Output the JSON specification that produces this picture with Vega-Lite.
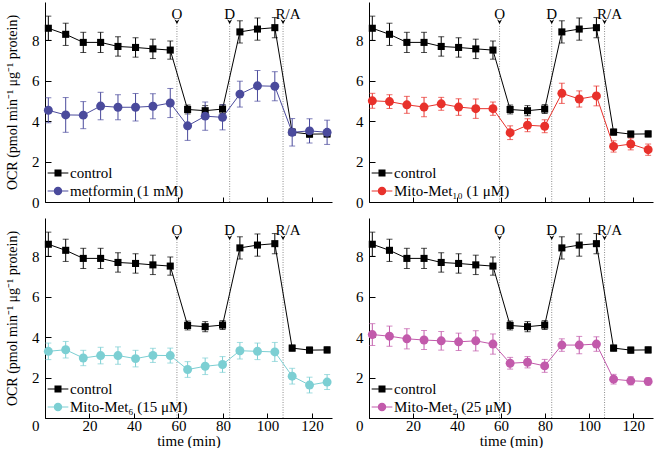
{
  "$schema": "https://vega.github.io/schema/vega-lite/v6.json",
  "padding": {"left": 5, "top": 2, "right": 2, "bottom": 0},
  "datasets": {
    "events": [
      {"label": "O", "time": 59.3},
      {"label": "D", "time": 83.0},
      {"label": "R/A", "time": 107.0}
    ],
    "ocr": [
      {"panel": "all", "series": "control", "time": 1.5, "ocr": 8.6, "sem": 0.6},
      {"panel": "all", "series": "control", "time": 9.3, "ocr": 8.3, "sem": 0.55},
      {"panel": "all", "series": "control", "time": 17.2, "ocr": 7.9, "sem": 0.5},
      {"panel": "all", "series": "control", "time": 25.0, "ocr": 7.9, "sem": 0.5},
      {"panel": "all", "series": "control", "time": 32.8, "ocr": 7.7, "sem": 0.48},
      {"panel": "all", "series": "control", "time": 40.7, "ocr": 7.65, "sem": 0.48},
      {"panel": "all", "series": "control", "time": 48.5, "ocr": 7.58, "sem": 0.48},
      {"panel": "all", "series": "control", "time": 56.3, "ocr": 7.52, "sem": 0.45},
      {"panel": "all", "series": "control", "time": 64.1, "ocr": 4.58, "sem": 0.22},
      {"panel": "all", "series": "control", "time": 72.0, "ocr": 4.52, "sem": 0.25},
      {"panel": "all", "series": "control", "time": 79.8, "ocr": 4.6, "sem": 0.22},
      {"panel": "all", "series": "control", "time": 87.6, "ocr": 8.42, "sem": 0.55},
      {"panel": "all", "series": "control", "time": 95.5, "ocr": 8.56, "sem": 0.55},
      {"panel": "all", "series": "control", "time": 103.3, "ocr": 8.63, "sem": 0.5},
      {"panel": "all", "series": "control", "time": 111.1, "ocr": 3.46, "sem": 0.15},
      {"panel": "all", "series": "control", "time": 118.9, "ocr": 3.36, "sem": 0.15},
      {"panel": "all", "series": "control", "time": 126.8, "ocr": 3.37, "sem": 0.15},

      {"panel": "A", "series": "metformin (1 mM)", "time": 1.5, "ocr": 4.54, "sem": 0.62},
      {"panel": "A", "series": "metformin (1 mM)", "time": 9.3, "ocr": 4.31, "sem": 0.86},
      {"panel": "A", "series": "metformin (1 mM)", "time": 17.2, "ocr": 4.3, "sem": 0.67},
      {"panel": "A", "series": "metformin (1 mM)", "time": 25.0, "ocr": 4.75, "sem": 0.68},
      {"panel": "A", "series": "metformin (1 mM)", "time": 32.8, "ocr": 4.69, "sem": 0.62},
      {"panel": "A", "series": "metformin (1 mM)", "time": 40.7, "ocr": 4.69, "sem": 0.68},
      {"panel": "A", "series": "metformin (1 mM)", "time": 48.5, "ocr": 4.74, "sem": 0.62},
      {"panel": "A", "series": "metformin (1 mM)", "time": 56.3, "ocr": 4.9, "sem": 0.72},
      {"panel": "A", "series": "metformin (1 mM)", "time": 64.1, "ocr": 3.77, "sem": 0.72},
      {"panel": "A", "series": "metformin (1 mM)", "time": 72.0, "ocr": 4.25, "sem": 0.7},
      {"panel": "A", "series": "metformin (1 mM)", "time": 79.8, "ocr": 4.19, "sem": 0.62},
      {"panel": "A", "series": "metformin (1 mM)", "time": 87.6, "ocr": 5.34, "sem": 0.64},
      {"panel": "A", "series": "metformin (1 mM)", "time": 95.5, "ocr": 5.75, "sem": 0.76},
      {"panel": "A", "series": "metformin (1 mM)", "time": 103.3, "ocr": 5.73, "sem": 0.72},
      {"panel": "A", "series": "metformin (1 mM)", "time": 111.1, "ocr": 3.45, "sem": 0.68},
      {"panel": "A", "series": "metformin (1 mM)", "time": 118.9, "ocr": 3.52, "sem": 0.6},
      {"panel": "A", "series": "metformin (1 mM)", "time": 126.8, "ocr": 3.45, "sem": 0.6},

      {"panel": "B", "series": "Mito-Met₁₀ (1 μM)", "time": 1.5, "ocr": 5.01, "sem": 0.37},
      {"panel": "B", "series": "Mito-Met₁₀ (1 μM)", "time": 9.3, "ocr": 4.97, "sem": 0.34},
      {"panel": "B", "series": "Mito-Met₁₀ (1 μM)", "time": 17.2, "ocr": 4.81, "sem": 0.42},
      {"panel": "B", "series": "Mito-Met₁₀ (1 μM)", "time": 25.0, "ocr": 4.7, "sem": 0.48},
      {"panel": "B", "series": "Mito-Met₁₀ (1 μM)", "time": 32.8, "ocr": 4.86, "sem": 0.32},
      {"panel": "B", "series": "Mito-Met₁₀ (1 μM)", "time": 40.7, "ocr": 4.7, "sem": 0.41},
      {"panel": "B", "series": "Mito-Met₁₀ (1 μM)", "time": 48.5, "ocr": 4.62, "sem": 0.48},
      {"panel": "B", "series": "Mito-Met₁₀ (1 μM)", "time": 56.3, "ocr": 4.62, "sem": 0.33},
      {"panel": "B", "series": "Mito-Met₁₀ (1 μM)", "time": 64.1, "ocr": 3.43, "sem": 0.34},
      {"panel": "B", "series": "Mito-Met₁₀ (1 μM)", "time": 72.0, "ocr": 3.8, "sem": 0.32},
      {"panel": "B", "series": "Mito-Met₁₀ (1 μM)", "time": 79.8, "ocr": 3.75, "sem": 0.32},
      {"panel": "B", "series": "Mito-Met₁₀ (1 μM)", "time": 87.6, "ocr": 5.38, "sem": 0.5},
      {"panel": "B", "series": "Mito-Met₁₀ (1 μM)", "time": 95.5, "ocr": 5.1, "sem": 0.4},
      {"panel": "B", "series": "Mito-Met₁₀ (1 μM)", "time": 103.3, "ocr": 5.25, "sem": 0.49},
      {"panel": "B", "series": "Mito-Met₁₀ (1 μM)", "time": 111.1, "ocr": 2.75, "sem": 0.28},
      {"panel": "B", "series": "Mito-Met₁₀ (1 μM)", "time": 118.9, "ocr": 2.87, "sem": 0.29},
      {"panel": "B", "series": "Mito-Met₁₀ (1 μM)", "time": 126.8, "ocr": 2.59, "sem": 0.28},

      {"panel": "C", "series": "Mito-Met₆ (15 μM)", "time": 1.5, "ocr": 3.3, "sem": 0.41},
      {"panel": "C", "series": "Mito-Met₆ (15 μM)", "time": 9.3, "ocr": 3.38, "sem": 0.41},
      {"panel": "C", "series": "Mito-Met₆ (15 μM)", "time": 17.2, "ocr": 2.97, "sem": 0.38},
      {"panel": "C", "series": "Mito-Met₆ (15 μM)", "time": 25.0, "ocr": 3.09, "sem": 0.41},
      {"panel": "C", "series": "Mito-Met₆ (15 μM)", "time": 32.8, "ocr": 3.09, "sem": 0.43},
      {"panel": "C", "series": "Mito-Met₆ (15 μM)", "time": 40.7, "ocr": 2.94, "sem": 0.41},
      {"panel": "C", "series": "Mito-Met₆ (15 μM)", "time": 48.5, "ocr": 3.1, "sem": 0.35},
      {"panel": "C", "series": "Mito-Met₆ (15 μM)", "time": 56.3, "ocr": 3.09, "sem": 0.37},
      {"panel": "C", "series": "Mito-Met₆ (15 μM)", "time": 64.1, "ocr": 2.4, "sem": 0.39},
      {"panel": "C", "series": "Mito-Met₆ (15 μM)", "time": 72.0, "ocr": 2.56, "sem": 0.41},
      {"panel": "C", "series": "Mito-Met₆ (15 μM)", "time": 79.8, "ocr": 2.65, "sem": 0.39},
      {"panel": "C", "series": "Mito-Met₆ (15 μM)", "time": 87.6, "ocr": 3.33, "sem": 0.41},
      {"panel": "C", "series": "Mito-Met₆ (15 μM)", "time": 95.5, "ocr": 3.3, "sem": 0.41},
      {"panel": "C", "series": "Mito-Met₆ (15 μM)", "time": 103.3, "ocr": 3.27, "sem": 0.47},
      {"panel": "C", "series": "Mito-Met₆ (15 μM)", "time": 111.1, "ocr": 2.07, "sem": 0.39},
      {"panel": "C", "series": "Mito-Met₆ (15 μM)", "time": 118.9, "ocr": 1.63, "sem": 0.39},
      {"panel": "C", "series": "Mito-Met₆ (15 μM)", "time": 126.8, "ocr": 1.78, "sem": 0.37},

      {"panel": "D", "series": "Mito-Met₂ (25 μM)", "time": 1.5, "ocr": 4.13, "sem": 0.54},
      {"panel": "D", "series": "Mito-Met₂ (25 μM)", "time": 9.3, "ocr": 4.05, "sem": 0.5},
      {"panel": "D", "series": "Mito-Met₂ (25 μM)", "time": 17.2, "ocr": 3.92, "sem": 0.5},
      {"panel": "D", "series": "Mito-Met₂ (25 μM)", "time": 25.0, "ocr": 3.86, "sem": 0.47},
      {"panel": "D", "series": "Mito-Met₂ (25 μM)", "time": 32.8, "ocr": 3.82, "sem": 0.46},
      {"panel": "D", "series": "Mito-Met₂ (25 μM)", "time": 40.7, "ocr": 3.77, "sem": 0.43},
      {"panel": "D", "series": "Mito-Met₂ (25 μM)", "time": 48.5, "ocr": 3.82, "sem": 0.5},
      {"panel": "D", "series": "Mito-Met₂ (25 μM)", "time": 56.3, "ocr": 3.66, "sem": 0.5},
      {"panel": "D", "series": "Mito-Met₂ (25 μM)", "time": 64.1, "ocr": 2.71, "sem": 0.29},
      {"panel": "D", "series": "Mito-Met₂ (25 μM)", "time": 72.0, "ocr": 2.76, "sem": 0.28},
      {"panel": "D", "series": "Mito-Met₂ (25 μM)", "time": 79.8, "ocr": 2.58, "sem": 0.32},
      {"panel": "D", "series": "Mito-Met₂ (25 μM)", "time": 87.6, "ocr": 3.61, "sem": 0.31},
      {"panel": "D", "series": "Mito-Met₂ (25 μM)", "time": 95.5, "ocr": 3.61, "sem": 0.43},
      {"panel": "D", "series": "Mito-Met₂ (25 μM)", "time": 103.3, "ocr": 3.66, "sem": 0.36},
      {"panel": "D", "series": "Mito-Met₂ (25 μM)", "time": 111.1, "ocr": 1.92, "sem": 0.24},
      {"panel": "D", "series": "Mito-Met₂ (25 μM)", "time": 118.9, "ocr": 1.84, "sem": 0.2},
      {"panel": "D", "series": "Mito-Met₂ (25 μM)", "time": 126.8, "ocr": 1.81, "sem": 0.18}
    ]
  },
  "columns": 2,
  "spacing": {"row": 8, "column": 23},
  "resolve": {
    "scale": {"x": "independent", "y": "independent", "color": "independent", "shape": "independent"},
    "legend": {"color": "independent", "shape": "independent"}
  },
  "concat": [
    {
      "width": 287, "height": 200,
      "layer": [
        {"data": {"name": "events"}, "mark": {"type": "rule", "color": "#8c8c8c", "strokeDash": [1, 1.5], "strokeWidth": 1},
         "encoding": {"x": {"field": "time", "type": "quantitative", "title": null}, "y": {"datum": 0, "title": "OCR (pmol min⁻¹ μg⁻¹ protein)"}, "y2": {"datum": 8.8}}},
        {"data": {"name": "events"}, "mark": {"type": "point", "shape": "M-1,-1L0,1L1,-1L0,-0.3Z", "filled": true, "color": "black", "opacity": 1, "size": 25},
         "encoding": {"x": {"field": "time", "type": "quantitative", "title": null}, "y": {"datum": 8.92, "title": "OCR (pmol min⁻¹ μg⁻¹ protein)"}}},
        {"data": {"name": "events"}, "transform": [{"filter": "datum.label !== 'R/A'"}], "mark": {"type": "text", "fontSize": 15, "color": "black", "font": "Liberation Serif"},
         "encoding": {"x": {"field": "time", "type": "quantitative", "title": null}, "y": {"datum": 9.33, "title": "OCR (pmol min⁻¹ μg⁻¹ protein)"}, "text": {"field": "label"}}},
        {"data": {"name": "events"}, "transform": [{"filter": "datum.label === 'R/A'"}], "mark": {"type": "text", "fontSize": 15, "color": "black", "font": "Liberation Serif", "dx": 5},
         "encoding": {"x": {"field": "time", "type": "quantitative", "title": null}, "y": {"datum": 9.33, "title": "OCR (pmol min⁻¹ μg⁻¹ protein)"}, "text": {"field": "label"}}},
        {"data": {"name": "ocr"}, "transform": [{"filter": "datum.series === 'control'"}],
         "mark": {"type": "errorbar", "ticks": true, "size": 6, "thickness": 1, "color": "black"},
         "encoding": {"x": {"field": "time", "type": "quantitative", "title": null}, "y": {"field": "ocr", "type": "quantitative", "title": "OCR (pmol min⁻¹ μg⁻¹ protein)"}, "yError": {"field": "sem"}}},
        {"data": {"name": "ocr"}, "transform": [{"filter": "datum.series === 'control'"}],
         "mark": {"type": "line", "strokeWidth": 1, "color": "black"},
         "encoding": {"x": {"field": "time", "type": "quantitative", "title": null}, "y": {"field": "ocr", "type": "quantitative", "title": "OCR (pmol min⁻¹ μg⁻¹ protein)"}}},
        {"data": {"name": "ocr"}, "transform": [{"filter": "datum.panel === 'A'"}],
         "mark": {"type": "errorbar", "ticks": true, "size": 6, "thickness": 1, "color": "#4a4a9c"},
         "encoding": {"x": {"field": "time", "type": "quantitative", "title": null}, "y": {"field": "ocr", "type": "quantitative", "title": "OCR (pmol min⁻¹ μg⁻¹ protein)"}, "yError": {"field": "sem"}}},
        {"data": {"name": "ocr"}, "transform": [{"filter": "datum.panel === 'A'"}],
         "mark": {"type": "line", "strokeWidth": 1, "color": "#4a4a9c"},
         "encoding": {"x": {"field": "time", "type": "quantitative", "title": null}, "y": {"field": "ocr", "type": "quantitative", "title": "OCR (pmol min⁻¹ μg⁻¹ protein)"}}},
        {"data": {"name": "ocr"}, "transform": [{"filter": "datum.panel === 'all' || datum.panel === 'A'"}],
         "mark": {"type": "point", "filled": true, "opacity": 1},
         "encoding": {
           "x": {"field": "time", "type": "quantitative", "title": null, "scale": {"domain": [0, 129], "nice": false, "zero": false},
             "axis": {"title": null, "labels": false, "values": [0, 10, 20, 30, 40, 50, 60, 70, 80, 90, 100, 110, 120], "tickSize": {"condition": {"test": "datum.value % 20 === 0", "value": -5}, "value": -3}}},
           "y": {"field": "ocr", "type": "quantitative", "title": "OCR (pmol min⁻¹ μg⁻¹ protein)", "scale": {"domain": [0, 9.9], "nice": false},
             "axis": {"title": "OCR (pmol min⁻¹ μg⁻¹ protein)", "titleFontSize": 14, "values": [0, 1, 2, 3, 4, 5, 6, 7, 8, 9], "labelExpr": "datum.value % 2 === 0 ? datum.label : ''", "tickSize": {"condition": {"test": "datum.value % 2 === 0", "value": -6}, "value": -3}, "labelPadding": 12, "titlePadding": 12}},
           "color": {"condition": {"test": "datum.series === 'control'", "value": "black"}, "value": "#4a4a9c"},
           "shape": {"condition": {"test": "datum.series === 'control'", "value": "square"}, "value": "circle"},
           "size": {"condition": {"test": "datum.series === 'control'", "value": 50}, "value": 80}
         }},
        {"data": {"name": "ocr"}, "transform": [{"filter": "datum.time < 0"}],
         "mark": {"type": "point", "filled": true, "opacity": 1, "size": 324},
         "encoding": {
           "x": {"field": "time", "type": "quantitative", "title": null},
           "y": {"field": "ocr", "type": "quantitative", "title": "OCR (pmol min⁻¹ μg⁻¹ protein)"},
           "color": {"field": "series", "type": "nominal", "scale": {"domain": ["control", "metformin (1 mM)"], "range": ["black", "#4a4a9c"]},
             "legend": {"orient": "bottom-left", "offset": 3, "title": null, "padding": 0, "symbolSize": 324, "labelOffset": 2, "rowPadding": 0, "labelLimit": 0}},
           "shape": {"field": "series", "type": "nominal", "scale": {"domain": ["control", "metformin (1 mM)"], "range": ["M-1.15,-0.055H1.15V0.055H-1.15Z M-0.39,-0.39H0.39V0.39H-0.39Z", "M-1.15,-0.055H1.15V0.055H-1.15Z M-0.47,0A0.47,0.47 0 1,1 0.47,0A0.47,0.47 0 1,1 -0.47,0Z"]},
             "legend": {"orient": "bottom-left", "offset": 3, "title": null, "padding": 0, "symbolSize": 324, "labelOffset": 2, "rowPadding": 0, "labelLimit": 0}}
         }}
      ]
    },
    {
      "width": 284, "height": 200,
      "layer": [
        {"data": {"name": "events"}, "mark": {"type": "rule", "color": "#8c8c8c", "strokeDash": [1, 1.5], "strokeWidth": 1},
         "encoding": {"x": {"field": "time", "type": "quantitative", "title": null}, "y": {"datum": 0, "title": null}, "y2": {"datum": 8.8}}},
        {"data": {"name": "events"}, "mark": {"type": "point", "shape": "M-1,-1L0,1L1,-1L0,-0.3Z", "filled": true, "color": "black", "opacity": 1, "size": 25},
         "encoding": {"x": {"field": "time", "type": "quantitative", "title": null}, "y": {"datum": 8.92, "title": null}}},
        {"data": {"name": "events"}, "transform": [{"filter": "datum.label !== 'R/A'"}], "mark": {"type": "text", "fontSize": 15, "color": "black", "font": "Liberation Serif"},
         "encoding": {"x": {"field": "time", "type": "quantitative", "title": null}, "y": {"datum": 9.33, "title": null}, "text": {"field": "label"}}},
        {"data": {"name": "events"}, "transform": [{"filter": "datum.label === 'R/A'"}], "mark": {"type": "text", "fontSize": 15, "color": "black", "font": "Liberation Serif", "dx": 5},
         "encoding": {"x": {"field": "time", "type": "quantitative", "title": null}, "y": {"datum": 9.33, "title": null}, "text": {"field": "label"}}},
        {"data": {"name": "ocr"}, "transform": [{"filter": "datum.series === 'control'"}],
         "mark": {"type": "errorbar", "ticks": true, "size": 6, "thickness": 1, "color": "black"},
         "encoding": {"x": {"field": "time", "type": "quantitative", "title": null}, "y": {"field": "ocr", "type": "quantitative", "title": null}, "yError": {"field": "sem"}}},
        {"data": {"name": "ocr"}, "transform": [{"filter": "datum.series === 'control'"}],
         "mark": {"type": "line", "strokeWidth": 1, "color": "black"},
         "encoding": {"x": {"field": "time", "type": "quantitative", "title": null}, "y": {"field": "ocr", "type": "quantitative", "title": null}}},
        {"data": {"name": "ocr"}, "transform": [{"filter": "datum.panel === 'B'"}],
         "mark": {"type": "errorbar", "ticks": true, "size": 6, "thickness": 1, "color": "#e8312b"},
         "encoding": {"x": {"field": "time", "type": "quantitative", "title": null}, "y": {"field": "ocr", "type": "quantitative", "title": null}, "yError": {"field": "sem"}}},
        {"data": {"name": "ocr"}, "transform": [{"filter": "datum.panel === 'B'"}],
         "mark": {"type": "line", "strokeWidth": 1, "color": "#e8312b"},
         "encoding": {"x": {"field": "time", "type": "quantitative", "title": null}, "y": {"field": "ocr", "type": "quantitative", "title": null}}},
        {"data": {"name": "ocr"}, "transform": [{"filter": "datum.panel === 'all' || datum.panel === 'B'"}],
         "mark": {"type": "point", "filled": true, "opacity": 1},
         "encoding": {
           "x": {"field": "time", "type": "quantitative", "title": null, "scale": {"domain": [0, 129], "nice": false, "zero": false},
             "axis": {"title": null, "labels": false, "values": [0, 10, 20, 30, 40, 50, 60, 70, 80, 90, 100, 110, 120], "tickSize": {"condition": {"test": "datum.value % 20 === 0", "value": -5}, "value": -3}}},
           "y": {"field": "ocr", "type": "quantitative", "title": null, "scale": {"domain": [0, 9.9], "nice": false},
             "axis": {"title": null, "values": [0, 1, 2, 3, 4, 5, 6, 7, 8, 9], "labelExpr": "datum.value % 2 === 0 ? datum.label : ''", "tickSize": {"condition": {"test": "datum.value % 2 === 0", "value": -6}, "value": -3}, "labelPadding": 12}},
           "color": {"condition": {"test": "datum.series === 'control'", "value": "black"}, "value": "#e8312b"},
           "shape": {"condition": {"test": "datum.series === 'control'", "value": "square"}, "value": "circle"},
           "size": {"condition": {"test": "datum.series === 'control'", "value": 50}, "value": 80}
         }},
        {"data": {"name": "ocr"}, "transform": [{"filter": "datum.time < 0"}],
         "mark": {"type": "point", "filled": true, "opacity": 1, "size": 324},
         "encoding": {
           "x": {"field": "time", "type": "quantitative", "title": null},
           "y": {"field": "ocr", "type": "quantitative", "title": null},
           "color": {"field": "series", "type": "nominal", "scale": {"domain": ["control", "Mito-Met₁₀ (1 μM)"], "range": ["black", "#e8312b"]},
             "legend": {"orient": "bottom-left", "offset": 3, "title": null, "padding": 0, "symbolSize": 324, "labelOffset": 2, "rowPadding": 0, "labelLimit": 0}},
           "shape": {"field": "series", "type": "nominal", "scale": {"domain": ["control", "Mito-Met₁₀ (1 μM)"], "range": ["M-1.15,-0.055H1.15V0.055H-1.15Z M-0.39,-0.39H0.39V0.39H-0.39Z", "M-1.15,-0.055H1.15V0.055H-1.15Z M-0.47,0A0.47,0.47 0 1,1 0.47,0A0.47,0.47 0 1,1 -0.47,0Z"]},
             "legend": {"orient": "bottom-left", "offset": 3, "title": null, "padding": 0, "symbolSize": 324, "labelOffset": 2, "rowPadding": 0, "labelLimit": 0}}
         }}
      ]
    },
    {
      "width": 287, "height": 200,
      "layer": [
        {"data": {"name": "events"}, "mark": {"type": "rule", "color": "#8c8c8c", "strokeDash": [1, 1.5], "strokeWidth": 1},
         "encoding": {"x": {"field": "time", "type": "quantitative", "title": "time (min)"}, "y": {"datum": 0, "title": "OCR (pmol min⁻¹ μg⁻¹ protein)"}, "y2": {"datum": 8.8}}},
        {"data": {"name": "events"}, "mark": {"type": "point", "shape": "M-1,-1L0,1L1,-1L0,-0.3Z", "filled": true, "color": "black", "opacity": 1, "size": 25},
         "encoding": {"x": {"field": "time", "type": "quantitative", "title": "time (min)"}, "y": {"datum": 8.92, "title": "OCR (pmol min⁻¹ μg⁻¹ protein)"}}},
        {"data": {"name": "events"}, "transform": [{"filter": "datum.label !== 'R/A'"}], "mark": {"type": "text", "fontSize": 15, "color": "black", "font": "Liberation Serif"},
         "encoding": {"x": {"field": "time", "type": "quantitative", "title": "time (min)"}, "y": {"datum": 9.33, "title": "OCR (pmol min⁻¹ μg⁻¹ protein)"}, "text": {"field": "label"}}},
        {"data": {"name": "events"}, "transform": [{"filter": "datum.label === 'R/A'"}], "mark": {"type": "text", "fontSize": 15, "color": "black", "font": "Liberation Serif", "dx": 5},
         "encoding": {"x": {"field": "time", "type": "quantitative", "title": "time (min)"}, "y": {"datum": 9.33, "title": "OCR (pmol min⁻¹ μg⁻¹ protein)"}, "text": {"field": "label"}}},
        {"data": {"name": "ocr"}, "transform": [{"filter": "datum.series === 'control'"}],
         "mark": {"type": "errorbar", "ticks": true, "size": 6, "thickness": 1, "color": "black"},
         "encoding": {"x": {"field": "time", "type": "quantitative", "title": "time (min)"}, "y": {"field": "ocr", "type": "quantitative", "title": "OCR (pmol min⁻¹ μg⁻¹ protein)"}, "yError": {"field": "sem"}}},
        {"data": {"name": "ocr"}, "transform": [{"filter": "datum.series === 'control'"}],
         "mark": {"type": "line", "strokeWidth": 1, "color": "black"},
         "encoding": {"x": {"field": "time", "type": "quantitative", "title": "time (min)"}, "y": {"field": "ocr", "type": "quantitative", "title": "OCR (pmol min⁻¹ μg⁻¹ protein)"}}},
        {"data": {"name": "ocr"}, "transform": [{"filter": "datum.panel === 'C'"}],
         "mark": {"type": "errorbar", "ticks": true, "size": 6, "thickness": 1, "color": "#7ccfd3"},
         "encoding": {"x": {"field": "time", "type": "quantitative", "title": "time (min)"}, "y": {"field": "ocr", "type": "quantitative", "title": "OCR (pmol min⁻¹ μg⁻¹ protein)"}, "yError": {"field": "sem"}}},
        {"data": {"name": "ocr"}, "transform": [{"filter": "datum.panel === 'C'"}],
         "mark": {"type": "line", "strokeWidth": 1, "color": "#7ccfd3"},
         "encoding": {"x": {"field": "time", "type": "quantitative", "title": "time (min)"}, "y": {"field": "ocr", "type": "quantitative", "title": "OCR (pmol min⁻¹ μg⁻¹ protein)"}}},
        {"data": {"name": "ocr"}, "transform": [{"filter": "datum.panel === 'all' || datum.panel === 'C'"}],
         "mark": {"type": "point", "filled": true, "opacity": 1},
         "encoding": {
           "x": {"field": "time", "type": "quantitative", "title": "time (min)", "scale": {"domain": [0, 129], "nice": false, "zero": false},
             "axis": {"title": "time (min)", "values": [0, 10, 20, 30, 40, 50, 60, 70, 80, 90, 100, 110, 120], "labelExpr": "datum.value !== 0 && datum.value % 20 === 0 ? datum.label : ''", "tickSize": {"condition": {"test": "datum.value % 20 === 0", "value": -5}, "value": -3}, "labelPadding": 5, "titlePadding": 0}},
           "y": {"field": "ocr", "type": "quantitative", "title": "OCR (pmol min⁻¹ μg⁻¹ protein)", "scale": {"domain": [0, 9.9], "nice": false},
             "axis": {"title": "OCR (pmol min⁻¹ μg⁻¹ protein)", "titleFontSize": 14, "values": [0, 1, 2, 3, 4, 5, 6, 7, 8, 9], "labelExpr": "datum.value % 2 === 0 ? datum.label : ''", "tickSize": {"condition": {"test": "datum.value % 2 === 0", "value": -6}, "value": -3}, "labelPadding": 12, "titlePadding": 12,
               "labelBaseline": {"condition": {"test": "datum.value === 0", "value": "top"}, "value": "middle"}}},
           "color": {"condition": {"test": "datum.series === 'control'", "value": "black"}, "value": "#7ccfd3"},
           "shape": {"condition": {"test": "datum.series === 'control'", "value": "square"}, "value": "circle"},
           "size": {"condition": {"test": "datum.series === 'control'", "value": 50}, "value": 80}
         }},
        {"data": {"name": "ocr"}, "transform": [{"filter": "datum.time < 0"}],
         "mark": {"type": "point", "filled": true, "opacity": 1, "size": 324},
         "encoding": {
           "x": {"field": "time", "type": "quantitative", "title": "time (min)"},
           "y": {"field": "ocr", "type": "quantitative", "title": "OCR (pmol min⁻¹ μg⁻¹ protein)"},
           "color": {"field": "series", "type": "nominal", "scale": {"domain": ["control", "Mito-Met₆ (15 μM)"], "range": ["black", "#7ccfd3"]},
             "legend": {"orient": "bottom-left", "offset": 3, "title": null, "padding": 0, "symbolSize": 324, "labelOffset": 2, "rowPadding": 0, "labelLimit": 0}},
           "shape": {"field": "series", "type": "nominal", "scale": {"domain": ["control", "Mito-Met₆ (15 μM)"], "range": ["M-1.15,-0.055H1.15V0.055H-1.15Z M-0.39,-0.39H0.39V0.39H-0.39Z", "M-1.15,-0.055H1.15V0.055H-1.15Z M-0.47,0A0.47,0.47 0 1,1 0.47,0A0.47,0.47 0 1,1 -0.47,0Z"]},
             "legend": {"orient": "bottom-left", "offset": 3, "title": null, "padding": 0, "symbolSize": 324, "labelOffset": 2, "rowPadding": 0, "labelLimit": 0}}
         }}
      ]
    },
    {
      "width": 284, "height": 200,
      "layer": [
        {"data": {"name": "events"}, "mark": {"type": "rule", "color": "#8c8c8c", "strokeDash": [1, 1.5], "strokeWidth": 1},
         "encoding": {"x": {"field": "time", "type": "quantitative", "title": "time (min)"}, "y": {"datum": 0, "title": null}, "y2": {"datum": 8.8}}},
        {"data": {"name": "events"}, "mark": {"type": "point", "shape": "M-1,-1L0,1L1,-1L0,-0.3Z", "filled": true, "color": "black", "opacity": 1, "size": 25},
         "encoding": {"x": {"field": "time", "type": "quantitative", "title": "time (min)"}, "y": {"datum": 8.92, "title": null}}},
        {"data": {"name": "events"}, "transform": [{"filter": "datum.label !== 'R/A'"}], "mark": {"type": "text", "fontSize": 15, "color": "black", "font": "Liberation Serif"},
         "encoding": {"x": {"field": "time", "type": "quantitative", "title": "time (min)"}, "y": {"datum": 9.33, "title": null}, "text": {"field": "label"}}},
        {"data": {"name": "events"}, "transform": [{"filter": "datum.label === 'R/A'"}], "mark": {"type": "text", "fontSize": 15, "color": "black", "font": "Liberation Serif", "dx": 5},
         "encoding": {"x": {"field": "time", "type": "quantitative", "title": "time (min)"}, "y": {"datum": 9.33, "title": null}, "text": {"field": "label"}}},
        {"data": {"name": "ocr"}, "transform": [{"filter": "datum.series === 'control'"}],
         "mark": {"type": "errorbar", "ticks": true, "size": 6, "thickness": 1, "color": "black"},
         "encoding": {"x": {"field": "time", "type": "quantitative", "title": "time (min)"}, "y": {"field": "ocr", "type": "quantitative", "title": null}, "yError": {"field": "sem"}}},
        {"data": {"name": "ocr"}, "transform": [{"filter": "datum.series === 'control'"}],
         "mark": {"type": "line", "strokeWidth": 1, "color": "black"},
         "encoding": {"x": {"field": "time", "type": "quantitative", "title": "time (min)"}, "y": {"field": "ocr", "type": "quantitative", "title": null}}},
        {"data": {"name": "ocr"}, "transform": [{"filter": "datum.panel === 'D'"}],
         "mark": {"type": "errorbar", "ticks": true, "size": 6, "thickness": 1, "color": "#c25aab"},
         "encoding": {"x": {"field": "time", "type": "quantitative", "title": "time (min)"}, "y": {"field": "ocr", "type": "quantitative", "title": null}, "yError": {"field": "sem"}}},
        {"data": {"name": "ocr"}, "transform": [{"filter": "datum.panel === 'D'"}],
         "mark": {"type": "line", "strokeWidth": 1, "color": "#c25aab"},
         "encoding": {"x": {"field": "time", "type": "quantitative", "title": "time (min)"}, "y": {"field": "ocr", "type": "quantitative", "title": null}}},
        {"data": {"name": "ocr"}, "transform": [{"filter": "datum.panel === 'all' || datum.panel === 'D'"}],
         "mark": {"type": "point", "filled": true, "opacity": 1},
         "encoding": {
           "x": {"field": "time", "type": "quantitative", "title": "time (min)", "scale": {"domain": [0, 129], "nice": false, "zero": false},
             "axis": {"title": "time (min)", "values": [0, 10, 20, 30, 40, 50, 60, 70, 80, 90, 100, 110, 120], "labelExpr": "datum.value !== 0 && datum.value % 20 === 0 ? datum.label : ''", "tickSize": {"condition": {"test": "datum.value % 20 === 0", "value": -5}, "value": -3}, "labelPadding": 5, "titlePadding": 0}},
           "y": {"field": "ocr", "type": "quantitative", "title": null, "scale": {"domain": [0, 9.9], "nice": false},
             "axis": {"title": null, "values": [0, 1, 2, 3, 4, 5, 6, 7, 8, 9], "labelExpr": "datum.value % 2 === 0 ? datum.label : ''", "tickSize": {"condition": {"test": "datum.value % 2 === 0", "value": -6}, "value": -3}, "labelPadding": 12,
               "labelBaseline": {"condition": {"test": "datum.value === 0", "value": "top"}, "value": "middle"}}},
           "color": {"condition": {"test": "datum.series === 'control'", "value": "black"}, "value": "#c25aab"},
           "shape": {"condition": {"test": "datum.series === 'control'", "value": "square"}, "value": "circle"},
           "size": {"condition": {"test": "datum.series === 'control'", "value": 50}, "value": 80}
         }},
        {"data": {"name": "ocr"}, "transform": [{"filter": "datum.time < 0"}],
         "mark": {"type": "point", "filled": true, "opacity": 1, "size": 324},
         "encoding": {
           "x": {"field": "time", "type": "quantitative", "title": "time (min)"},
           "y": {"field": "ocr", "type": "quantitative", "title": null},
           "color": {"field": "series", "type": "nominal", "scale": {"domain": ["control", "Mito-Met₂ (25 μM)"], "range": ["black", "#c25aab"]},
             "legend": {"orient": "bottom-left", "offset": 3, "title": null, "padding": 0, "symbolSize": 324, "labelOffset": 2, "rowPadding": 0, "labelLimit": 0}},
           "shape": {"field": "series", "type": "nominal", "scale": {"domain": ["control", "Mito-Met₂ (25 μM)"], "range": ["M-1.15,-0.055H1.15V0.055H-1.15Z M-0.39,-0.39H0.39V0.39H-0.39Z", "M-1.15,-0.055H1.15V0.055H-1.15Z M-0.47,0A0.47,0.47 0 1,1 0.47,0A0.47,0.47 0 1,1 -0.47,0Z"]},
             "legend": {"orient": "bottom-left", "offset": 3, "title": null, "padding": 0, "symbolSize": 324, "labelOffset": 2, "rowPadding": 0, "labelLimit": 0}}
         }}
      ]
    }
  ],
  "config": {
    "font": "Liberation Serif",
    "view": {"stroke": null},
    "axis": {"domainColor": "black", "tickColor": "black", "labelColor": "black", "titleColor": "black", "labelFont": "Liberation Serif", "titleFont": "Liberation Serif", "labelFontSize": 15, "titleFontSize": 15, "titleFontWeight": "normal", "grid": false, "labelFlush": false, "tickWidth": 1, "domainWidth": 1},
    "legend": {"labelFont": "Liberation Serif", "labelColor": "black", "labelFontSize": 15},
    "text": {"font": "Liberation Serif"}
  }
}
